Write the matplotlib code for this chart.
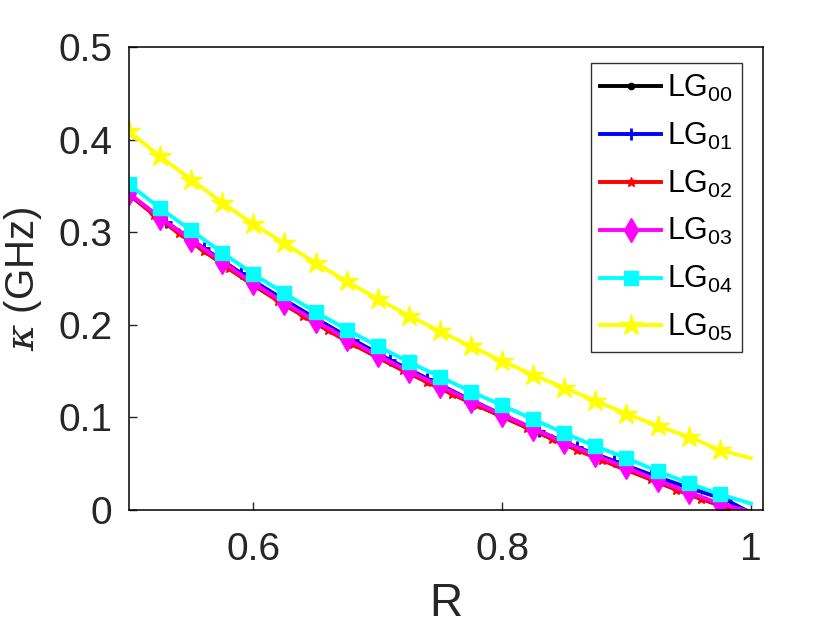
import numpy as np
import matplotlib
matplotlib.use("Agg")
import matplotlib.pyplot as plt

plt.rcParams['font.family'] = ['Liberation Sans', 'DejaVu Sans']
plt.rcParams['mathtext.fontset'] = 'custom'
plt.rcParams['mathtext.rm'] = 'Liberation Sans'
plt.rcParams['mathtext.it'] = 'DejaVu Serif:italic'

# R grids (markers on each curve)
R_25 = np.linspace(0.5, 1.0, 21)
R_20 = np.linspace(0.5, 1.0, 26)
R_30 = [0.5, 0.53, 0.56, 0.59, 0.62, 0.65, 0.68, 0.71, 0.74, 0.77, 0.80,
        0.83, 0.86, 0.89, 0.92, 0.95, 0.98, 1.0]

# kappa (GHz)
lg00 = [0.341, 0.314, 0.290, 0.266, 0.243, 0.222, 0.202, 0.183, 0.165, 0.148,
        0.132, 0.116, 0.101, 0.086, 0.071, 0.057, 0.044, 0.030, 0.017, 0.005, -0.003]
lg01 = [0.341, 0.311, 0.283, 0.256, 0.231, 0.207, 0.184, 0.162, 0.142, 0.122,
        0.103, 0.085, 0.068, 0.053, 0.038, 0.024, 0.011, -0.003]
lg02 = [0.341, 0.319, 0.299, 0.280, 0.261, 0.243, 0.226, 0.210, 0.194, 0.179,
        0.165, 0.151, 0.138, 0.125, 0.113, 0.101, 0.089, 0.077, 0.065, 0.054,
        0.043, 0.033, 0.022, 0.012, 0.003, -0.003]
lg03 = [0.342, 0.316, 0.292, 0.268, 0.245, 0.224, 0.204, 0.185, 0.167, 0.150,
        0.134, 0.118, 0.103, 0.088, 0.073, 0.059, 0.046, 0.032, 0.019, 0.007, -0.002]
lg04 = [0.352, 0.326, 0.302, 0.278, 0.255, 0.234, 0.214, 0.195, 0.177, 0.160,
        0.144, 0.128, 0.113, 0.098, 0.083, 0.069, 0.056, 0.042, 0.029, 0.017, 0.007]
lg05 = [0.409, 0.382, 0.357, 0.332, 0.309, 0.288, 0.267, 0.247, 0.228, 0.210,
        0.193, 0.177, 0.161, 0.146, 0.132, 0.118, 0.104, 0.091, 0.079, 0.065, 0.056]

labels = ['LG$_{00}$', 'LG$_{01}$', 'LG$_{02}$', 'LG$_{03}$', 'LG$_{04}$', 'LG$_{05}$']

fig = plt.figure(figsize=(8.4, 6.3), dpi=100)
ax = fig.add_axes([0.1536, 0.1905, 0.7544, 0.7345])

lw = 2.8
skip_last = slice(0, -1)
ax.plot(R_25, lg00, color='k', lw=lw, marker='.', ms=9, markevery=skip_last, label=labels[0])
ax.plot(R_30, lg01, color=(0, 0, 1), lw=lw, marker='+', ms=8, mew=2, markevery=skip_last, label=labels[1])
ax.plot(R_20, lg02, color=(1, 0, 0), lw=lw, marker='*', ms=7, markevery=skip_last, label=labels[2])
ax.plot(R_25, lg03, color=(1, 0, 1), lw=lw, marker='d', ms=12, markevery=skip_last, label=labels[3])
ax.plot(R_25, lg04, color=(0, 1, 1), lw=lw, marker='s', ms=10, markevery=skip_last, label=labels[4])
ax.plot(R_25, lg05, color=(1, 1, 0), lw=lw, marker='*', ms=16, markevery=skip_last, label=labels[5])

ax.set_xlim(0.5, 1.0096)
ax.set_ylim(0, 0.5)
ax.set_xticks([0.6, 0.8, 1.0])
ax.set_xticklabels(['0.6', '0.8', '1'])
ax.set_yticks([0, 0.1, 0.2, 0.3, 0.4, 0.5])
ax.set_yticklabels(['0', '0.1', '0.2', '0.3', '0.4', '0.5'])
ax.tick_params(axis='x', direction='in', length=6, width=1, labelsize=28, pad=16, colors='#262626')
ax.tick_params(axis='y', direction='in', length=6, width=1, labelsize=28, pad=12, colors='#262626')
for s in ax.spines.values():
    s.set_linewidth(1.1)
    s.set_color('k')

ax.set_xlabel('R', fontsize=33, color='#262626', labelpad=10)
ax.set_ylabel(r'$\kappa$ (GHz)', fontsize=29, color='#262626', labelpad=10)

leg = ax.legend(loc='upper right', bbox_to_anchor=(0.968, 0.965), fontsize=22,
                frameon=True, fancybox=False, edgecolor='k', handlelength=2.0,
                handletextpad=0.2, labelspacing=0.55, borderpad=0.3, borderaxespad=0.0)
leg.get_frame().set_linewidth(1.0)

fig.savefig('out.png', dpi=100)
